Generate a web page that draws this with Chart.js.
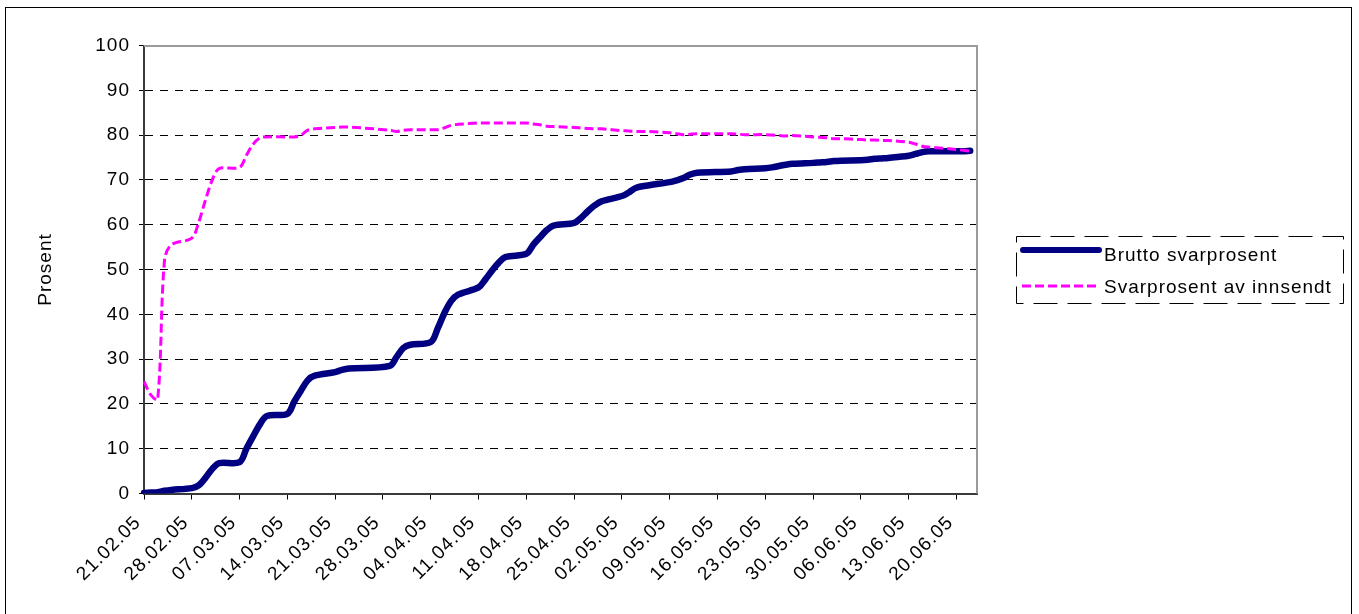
<!DOCTYPE html>
<html>
<head>
<meta charset="utf-8">
<script src="https://cdn.jsdelivr.net/npm/chart.js@4.4.1/dist/chart.umd.min.js"></script>
<style>
  html, body { margin: 0; padding: 0; background: #fff; }
  #wrap { width: 1359px; height: 614px; position: relative; }
</style>
</head>
<body>
<div id="wrap"><canvas id="c"></canvas></div>
<script>
// ---- Data ----
const dayLabels = [
  '21.02.05','22.02.05','23.02.05','24.02.05','25.02.05','26.02.05','27.02.05','28.02.05',
  '01.03.05','02.03.05','03.03.05','04.03.05','05.03.05','06.03.05','07.03.05','08.03.05','09.03.05','10.03.05',
  '11.03.05','12.03.05','13.03.05','14.03.05','15.03.05','16.03.05','17.03.05','18.03.05','19.03.05','20.03.05',
  '21.03.05','22.03.05','23.03.05','24.03.05','25.03.05','26.03.05','27.03.05','28.03.05','29.03.05','30.03.05','31.03.05',
  '01.04.05','02.04.05','03.04.05','04.04.05','05.04.05','06.04.05','07.04.05','08.04.05','09.04.05','10.04.05',
  '11.04.05','12.04.05','13.04.05','14.04.05','15.04.05','16.04.05','17.04.05','18.04.05','19.04.05','20.04.05',
  '21.04.05','22.04.05','23.04.05','24.04.05','25.04.05','26.04.05','27.04.05','28.04.05','29.04.05','30.04.05',
  '01.05.05','02.05.05','03.05.05','04.05.05','05.05.05','06.05.05','07.05.05','08.05.05','09.05.05','10.05.05',
  '11.05.05','12.05.05','13.05.05','14.05.05','15.05.05','16.05.05','17.05.05','18.05.05','19.05.05','20.05.05',
  '21.05.05','22.05.05','23.05.05','24.05.05','25.05.05','26.05.05','27.05.05','28.05.05','29.05.05','30.05.05','31.05.05',
  '01.06.05','02.06.05','03.06.05','04.06.05','05.06.05','06.06.05','07.06.05','08.06.05','09.06.05','10.06.05',
  '11.06.05','12.06.05','13.06.05','14.06.05','15.06.05','16.06.05','17.06.05','18.06.05','19.06.05','20.06.05',
  '21.06.05','22.06.05','23.06.05'
];

const tickLabels = [
  '21.02.05','28.02.05','07.03.05','14.03.05','21.03.05','28.03.05','04.04.05','11.04.05','18.04.05',
  '25.04.05','02.05.05','09.05.05','16.05.05','23.05.05','30.05.05','06.06.05','13.06.05','20.06.05'
];

const dates = [
  '21.02.05','22.02.05','23.02.05','24.02.05','25.02.05',
  '28.02.05','01.03.05','02.03.05','03.03.05','04.03.05',
  '07.03.05','08.03.05','09.03.05','10.03.05','11.03.05',
  '14.03.05','15.03.05','16.03.05','17.03.05','18.03.05',
  '21.03.05','22.03.05','23.03.05',
  '29.03.05','30.03.05','31.03.05','01.04.05',
  '04.04.05','05.04.05','06.04.05','07.04.05','08.04.05',
  '11.04.05','12.04.05','13.04.05','14.04.05','15.04.05',
  '18.04.05','19.04.05','20.04.05','21.04.05','22.04.05',
  '25.04.05','26.04.05','27.04.05','28.04.05','29.04.05',
  '02.05.05','03.05.05','04.05.05',
  '06.05.05',
  '09.05.05','10.05.05','11.05.05','12.05.05','13.05.05',
  '18.05.05','19.05.05','20.05.05',
  '23.05.05','24.05.05','25.05.05','26.05.05','27.05.05',
  '30.05.05','31.05.05','01.06.05','02.06.05','03.06.05',
  '06.06.05','07.06.05','08.06.05','09.06.05','10.06.05',
  '13.06.05','14.06.05','15.06.05','16.06.05','17.06.05',
  '20.06.05','21.06.05','22.06.05'
];

const brutto = [
  0.1, 0.2, 0.3, 0.6, 0.8,
  1.2, 1.8, 3.5, 5.5, 6.8,
  7.0, 10.0, 12.8, 15.5, 17.3,
  17.8, 20.5, 23.0, 25.3, 26.3,
  27.1, 27.6, 27.9,
  28.5, 30.5, 32.5, 33.2,
  33.8, 36.8, 40.3, 43.0, 44.4,
  46.0, 47.8, 49.8, 51.6, 52.8,
  53.5, 55.5, 57.2, 58.8, 59.8,
  60.4, 61.5, 63.0, 64.3, 65.2,
  66.4, 67.2, 68.2,
  68.8,
  69.5, 69.9, 70.4, 71.2, 71.6,
  71.9, 72.2, 72.4,
  72.6, 72.8, 73.1, 73.4, 73.6,
  73.8, 73.9, 74.0, 74.2, 74.3,
  74.4, 74.5, 74.7, 74.8, 74.9,
  75.4, 75.8, 76.2, 76.4, 76.4,
  76.4, 76.4, 76.5
];

const innsendt = [
  25.0, 22.0, 21.0, 52.0, 55.5,
  57.0, 60.5, 65.5, 70.0, 72.5,
  72.8, 75.5, 78.0, 79.4, 79.6,
  79.6, 79.6, 80.0, 81.1, 81.4,
  81.7, 81.8, 81.8,
  81.1, 80.8, 81.1, 81.2,
  81.2, 81.2, 81.6, 82.2, 82.4,
  82.7, 82.7, 82.7, 82.7, 82.7,
  82.7, 82.5, 82.3, 82.0, 81.9,
  81.7, 81.6, 81.5, 81.4, 81.4,
  81.0, 80.9, 80.8,
  80.8,
  80.5, 80.3, 80.1, 80.2, 80.3,
  80.3, 80.2, 80.1,
  80.1, 80.0, 79.9, 79.8, 79.9,
  79.6, 79.5, 79.4, 79.2, 79.2,
  79.0, 78.9, 78.9, 78.8, 78.8,
  78.4, 78.0, 77.5, 77.3, 77.2,
  76.8, 76.6, 76.4
];

const seriesNames = ['Brutto svarprosent', 'Svarprosent av innsendt'];
const yTitle = 'Prosent';

// ---- Styling ----
const FONT = "'Liberation Sans', Arial, sans-serif";
const FS = 19;
const LS = '1px';
const BLUE = '#000080';
const MAGENTA = '#FF00FF';
const MAG_DASH = [9, 4];

const spacing = {
  id: 'spacing',
  beforeLayout(chart) { chart.ctx.letterSpacing = LS; },
  beforeDraw(chart) { chart.ctx.letterSpacing = LS; }
};

const decor = {
  id: 'decor',
  beforeDraw(chart) {
    const ctx = chart.ctx;
    ctx.save();
    ctx.fillStyle = '#fff';
    ctx.fillRect(0, 0, chart.width, chart.height);
    ctx.strokeStyle = '#000';
    ctx.lineWidth = 1;
    ctx.strokeRect(5.5, 7.5, 1346, 700);
    ctx.restore();
  },
  beforeDatasetsDraw(chart) {
    const {ctx, chartArea: a} = chart;
    ctx.save();
    ctx.strokeStyle = '#9a9a9a';
    ctx.lineWidth = 2;
    ctx.beginPath();
    ctx.moveTo(a.left, Math.round(a.top));
    ctx.lineTo(Math.round(a.right), Math.round(a.top));
    ctx.lineTo(Math.round(a.right), a.bottom);
    ctx.stroke();
    ctx.restore();
  },
  afterDraw(chart) {
    const ctx = chart.ctx;
    ctx.save();
    ctx.letterSpacing = LS;
    // legend frame
    ctx.strokeStyle = '#000';
    ctx.lineWidth = 1;
    ctx.setLineDash([24, 10]);
    ctx.strokeRect(1016.5, 236.5, 327, 67);
    // entry 1
    ctx.setLineDash([]);
    ctx.strokeStyle = BLUE;
    ctx.lineWidth = 6;
    ctx.lineCap = 'round';
    ctx.beginPath(); ctx.moveTo(1023, 250); ctx.lineTo(1099, 250); ctx.stroke();
    // entry 2
    ctx.strokeStyle = MAGENTA;
    ctx.lineWidth = 3;
    ctx.lineCap = 'butt';
    ctx.setLineDash(MAG_DASH);
    ctx.beginPath(); ctx.moveTo(1022, 286); ctx.lineTo(1100, 286); ctx.stroke();
    ctx.setLineDash([]);
    ctx.fillStyle = '#000';
    ctx.font = FS + 'px ' + FONT;
    ctx.textBaseline = 'alphabetic';
    ctx.textAlign = 'left';
    ctx.fillText(seriesNames[0], 1104, 261);
    ctx.fillText(seriesNames[1], 1104, 293);
    ctx.restore();
  }
};

new Chart(document.getElementById('c'), {
  type: 'line',
  data: {
    labels: dayLabels,
    datasets: [
      {
        label: seriesNames[0],
        data: dates.map((d, i) => ({x: d, y: brutto[i]})),
        borderColor: BLUE,
        backgroundColor: BLUE,
        borderWidth: 6.5,
        borderCapStyle: 'round',
        borderJoinStyle: 'round',
        pointRadius: 0,
        tension: 0.33,
        fill: false,
        order: 1
      },
      {
        label: seriesNames[1],
        data: dates.map((d, i) => ({x: d, y: innsendt[i]})),
        borderColor: MAGENTA,
        backgroundColor: MAGENTA,
        borderWidth: 3,
        borderDash: MAG_DASH,
        pointRadius: 0,
        tension: 0.33,
        fill: false,
        order: 0
      }
    ]
  },
  options: {
    responsive: true,
    maintainAspectRatio: false,
    animation: false,
    devicePixelRatio: 1,
    layout: { padding: { left: 0, right: 382, top: 45.5, bottom: 0 } },
    plugins: { legend: { display: false }, tooltip: { enabled: false } },
    scales: {
      x: {
        type: 'category',
        offset: false,
        afterFit(scale) { scale.height = 120.5; },
        grid: {
          drawOnChartArea: false,
          drawTicks: true,
          tickLength: 6,
          color: 'transparent',
          tickColor: (ctx) => tickLabels.includes(dayLabels[ctx.index]) ? '#000' : 'transparent',
          tickWidth: 1
        },
        border: { display: true, color: '#3a3a3a', width: 2 },
        ticks: {
          autoSkip: false,
          minRotation: 45,
          maxRotation: 45,
          padding: 12,
          labelOffset: -6,
          color: '#000',
          font: { family: FONT, size: FS },
          callback: function (value) {
            const l = this.getLabelForValue(value);
            return tickLabels.includes(l) ? l : '';
          }
        }
      },
      y: {
        min: 0,
        max: 100,
        afterFit(scale) { scale.width = 144; },
        grid: {
          color: (ctx) => (ctx.tick && (ctx.tick.value === 0 || ctx.tick.value === 100)) ? 'transparent' : '#000',
          lineWidth: 1,
          drawTicks: true,
          tickLength: 5,
          tickColor: '#000',
          tickBorderDash: []
        },
        border: { display: true, color: '#3a3a3a', width: 2, dash: [8, 7] },
        ticks: {
          stepSize: 10,
          padding: 9,
          color: '#000',
          font: { family: FONT, size: FS }
        },
        title: {
          display: true,
          text: yTitle,
          color: '#000',
          font: { family: FONT, size: FS },
          padding: { top: 34, bottom: 0 }
        }
      }
    }
  },
  plugins: [spacing, decor]
});
</script>
</body>
</html>
